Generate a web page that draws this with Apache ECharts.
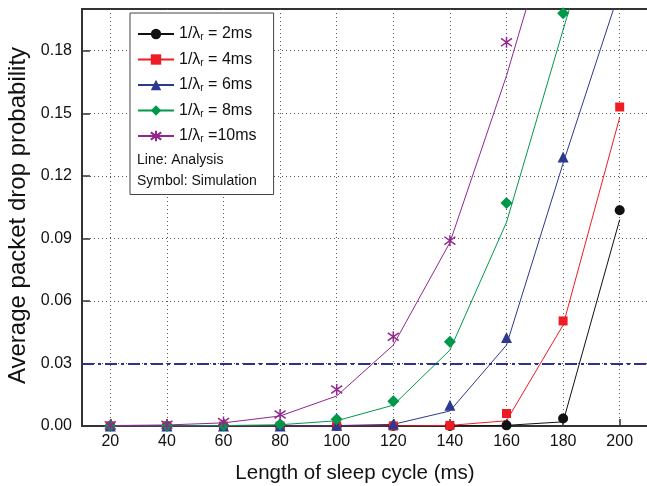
<!DOCTYPE html>
<html>
<head>
<meta charset="utf-8">
<script src="https://cdn.jsdelivr.net/npm/echarts@6/dist/echarts.min.js"></script>
<style>
  html, body { margin: 0; padding: 0; background: #fff; }
  #chart-div { width: 647px; height: 486px; }
</style>
</head>
<body>
<div id="chart-div"></div>
<script>
// sleep cycle lengths (ms)
const sleepCycle = [20, 40, 60, 80, 100, 120, 140, 160, 180, 200]
const yTicks = [0, 0.03, 0.06, 0.09, 0.12, 0.15, 0.18]

// analysis (lines)
const ana2ms = [0, 0, 0, 0, 0, 0, 0, 0.0003, 0.002, 0.099]
const ana4ms = [0, 0, 0, 0, 0, 0, 0.0003, 0.0025, 0.0484, 0.148]
const ana6ms = [0, 0, 0, 0, 0.0002, 0.0008, 0.0072, 0.0388, 0.126, 0.209]
const ana8ms = [0, 0, 0.0002, 0.0006, 0.0025, 0.010, 0.0364, 0.0977, 0.19, 0.28]
const ana10ms = [0.0002, 0.0005, 0.0015, 0.0048, 0.0144, 0.0388, 0.088, 0.168, 0.26, 0.35]

// simulation (symbols)
const sim2ms = [0, 0, 0, 0, 0, 0, 0, 0.0003, 0.0036, 0.1035]
const sim4ms = [0, 0, 0, 0, 0, 0, 0.0003, 0.006, 0.0504, 0.153]
const sim6ms = [0, 0, 0, 0, 0.0003, 0.001, 0.0100, 0.0425, 0.129, null]
const sim8ms = [0, 0, 0.0002, 0.0008, 0.0032, 0.0119, 0.0404, 0.107, 0.198, null]
const sim10ms = [0.0003, 0.0006, 0.0019, 0.0055, 0.0175, 0.0428, 0.0889, 0.184, null, null]

const threshold = 0.03

const font = 'Liberation Sans, Arial, Helvetica, sans-serif'
const starPath = 'path://M0,-10L0,10M-7.07,-7.07L7.07,7.07M-7.07,7.07L7.07,-7.07'

const groups = [
    { name: '2ms', label: ' = 2ms', ana: ana2ms, sim: sim2ms, color: '#111111', symbol: 'circle', size: 10 },
    { name: '4ms', label: ' = 4ms', ana: ana4ms, sim: sim4ms, color: '#ee1c24', symbol: 'rect', size: 9 },
    { name: '6ms', label: ' = 6ms', ana: ana6ms, sim: sim6ms, color: '#2b3990', symbol: 'triangle', size: 11 },
    { name: '8ms', label: ' = 8ms', ana: ana8ms, sim: sim8ms, color: '#00994c', symbol: 'diamond', size: 12 },
    { name: '10ms', label: ' =10ms', ana: ana10ms, sim: sim10ms, color: '#92278f', symbol: starPath, size: 11 }
]

function pairs(arr) {
    return sleepCycle.map((x, i) => [x, arr[i]]).filter(p => p[1] !== null)
}

let series = []
groups.forEach(g => {
    const isStar = g.symbol === starPath
    const symStyle = isStar
        ? { color: 'transparent', borderColor: g.color, borderWidth: 1.5, opacity: 1 }
        : { color: g.color, opacity: 1 }
    series.push({
        name: g.name,
        type: 'line',
        data: pairs(g.ana),
        showSymbol: false,
        symbol: g.symbol,
        symbolSize: g.size,
        itemStyle: symStyle,
        lineStyle: { color: g.color, width: 1 },
        color: g.color,
        clip: true,
        z: 2
    })
    series.push({
        name: g.name,
        type: 'scatter',
        data: pairs(g.sim),
        symbol: g.symbol,
        symbolSize: g.size,
        itemStyle: symStyle,
        clip: true,
        z: 3
    })
})

// dash-dot threshold line
series.push({
    type: 'line',
    data: [],
    markLine: {
        silent: true,
        symbol: 'none',
        label: { show: false },
        lineStyle: { color: '#2e3192', width: 2, type: [12, 4, 3, 4] },
        data: [{ yAxis: threshold }]
    }
})

const labelMap = {}
groups.forEach(g => { labelMap[g.name] = g.label })

let myChart = echarts.init(document.getElementById('chart-div'))

const option = {
    animation: false,
    textStyle: { fontFamily: font },
    grid: {
        left: 82, top: 9, width: 566, height: 417,
        outerBoundsMode: 'none',
        containLabel: false,
        show: true, borderColor: '#333', borderWidth: 2
    },
    legend: {
        left: 130, top: 13,
        orient: 'vertical',
        data: groups.map(g => g.name),
        itemWidth: 36,
        itemHeight: 13,
        itemGap: 9,
        padding: [13, 17, 50, 7],
        borderColor: '#444',
        borderWidth: 1,
        backgroundColor: '#fff',
        formatter: name => `{a|1/λ}{s|r}{a|${labelMap[name]}}`,
        textStyle: {
            fontFamily: font,
            rich: {
                a: { fontSize: 16, fontFamily: font, color: '#111' },
                s: { fontSize: 10, fontFamily: font, color: '#111', padding: [7, 0, 0, 0] }
            }
        }
    },
    graphic: [
        { type: 'text', z: 100, left: 137, top: 153, style: { text: 'Line: Analysis', font: '14px ' + font, fill: '#111' } },
        { type: 'text', z: 100, left: 137, top: 174, style: { text: 'Symbol: Simulation', font: '14px ' + font, fill: '#111' } }
    ],
    xAxis: {
        type: 'value',
        min: 10,
        max: 210,
        name: 'Length of sleep cycle (ms)',
        nameLocation: 'middle',
        nameGap: 37,
        nameTextStyle: { fontSize: 20.5, color: '#111', fontFamily: font, padding: [0, 20, 0, 0] },
        axisLine: { lineStyle: { color: '#333', width: 2 } },
        axisTick: { inside: true, length: 7, customValues: sleepCycle, lineStyle: { color: '#333', width: 1.5 } },
        axisLabel: { customValues: sleepCycle, fontSize: 16, color: '#111', margin: 8 },
        splitLine: { show: true, lineStyle: { color: '#555', type: [1, 3], width: 1 } }
    },
    yAxis: {
        type: 'value',
        min: 0,
        max: 0.2,
        name: 'Average packet drop probability',
        nameLocation: 'middle',
        nameGap: 49,
        nameTextStyle: { fontSize: 24, color: '#111', fontFamily: font, padding: [0, 0, 0, 4] },
        axisLine: { show: true, lineStyle: { color: '#333', width: 2 } },
        axisTick: { show: true, inside: true, length: 8, customValues: yTicks, lineStyle: { color: '#333', width: 1.5 } },
        axisLabel: {
            customValues: yTicks, fontSize: 16, color: '#111', margin: 10,
            formatter: v => v.toFixed(2)
        },
        splitLine: { show: true, lineStyle: { color: '#555', type: [1, 3], width: 1 } }
    },
    series: series
}

myChart.setOption(option)
</script>
</body>
</html>
